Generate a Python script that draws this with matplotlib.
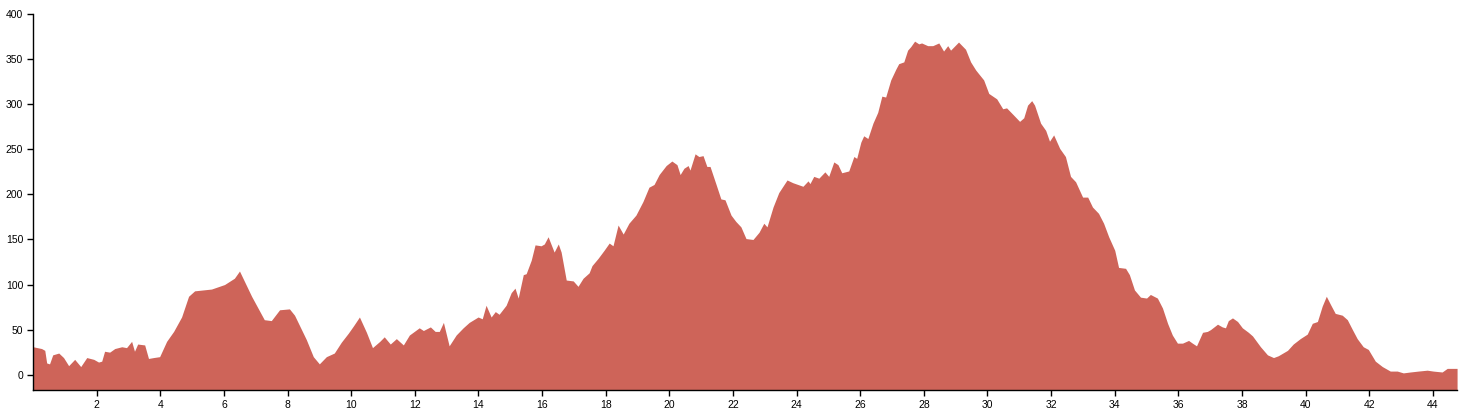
import matplotlib.pyplot as plt

plt.rcParams['font.family'] = ['Liberation Sans', 'DejaVu Sans']

# distance (km) and elevation (m)
dist = [0.0, 0.27, 0.37, 0.43, 0.52, 0.62, 0.81, 0.96, 1.12, 1.31, 1.50, 1.69, 1.91,
        2.06, 2.16, 2.25, 2.41, 2.57, 2.79, 2.94, 3.10, 3.19, 3.29, 3.51, 3.63, 3.79,
        3.98, 4.20, 4.42, 4.67, 4.89, 5.08, 5.61, 6.02, 6.33, 6.49, 6.87, 7.27, 7.49,
        7.75, 8.06, 8.22, 8.59, 8.81, 9.00, 9.22, 9.47, 9.69, 9.91, 10.07, 10.26, 10.48,
        10.67, 10.90, 11.04, 11.23, 11.42, 11.64, 11.83, 12.14, 12.27, 12.49, 12.64,
        12.77, 12.90, 13.08, 13.30, 13.52, 13.71, 13.99, 14.12, 14.24, 14.40, 14.53,
        14.65, 14.87, 15.03, 15.15, 15.25, 15.41, 15.50, 15.66, 15.78, 15.97, 16.07,
        16.19, 16.38, 16.51, 16.60, 16.76, 16.98, 17.13, 17.29, 17.48, 17.57, 17.76,
        17.95, 18.11, 18.23, 18.39, 18.55, 18.73, 18.95, 19.17, 19.36, 19.52, 19.68,
        19.90, 20.08, 20.24, 20.34, 20.46, 20.59, 20.65, 20.81, 20.93, 21.06, 21.18,
        21.28, 21.47, 21.62, 21.75, 21.94, 22.09, 22.25, 22.41, 22.63, 22.82, 22.97,
        23.07, 23.26, 23.44, 23.70, 23.88, 24.20, 24.36, 24.42, 24.54, 24.70, 24.89,
        25.01, 25.17, 25.30, 25.42, 25.64, 25.80, 25.89, 26.02, 26.11, 26.24, 26.40,
        26.55, 26.68, 26.80, 26.96, 27.12, 27.21, 27.37, 27.49, 27.59, 27.71, 27.84,
        27.93, 28.12, 28.28, 28.47, 28.62, 28.75, 28.84, 29.09, 29.31, 29.47, 29.63,
        29.72, 29.88, 30.04, 30.29, 30.48, 30.60, 30.82, 31.01, 31.14, 31.26, 31.39,
        31.48, 31.67, 31.83, 31.95, 32.08, 32.27, 32.45, 32.61, 32.77, 32.99, 33.15,
        33.30, 33.49, 33.65, 33.81, 34.00, 34.12, 34.34, 34.46, 34.62, 34.81, 35.00,
        35.12, 35.34, 35.50, 35.66, 35.81, 35.97, 36.13, 36.32, 36.44, 36.57, 36.76,
        36.91, 37.01, 37.23, 37.38, 37.48, 37.57, 37.70, 37.86, 38.01, 38.20, 38.33,
        38.58, 38.80, 38.99, 39.14, 39.43, 39.61, 39.83, 40.05, 40.21, 40.37, 40.52,
        40.65, 40.78, 40.93, 41.15, 41.31, 41.47, 41.62, 41.81, 41.97, 42.19, 42.41,
        42.66, 42.88, 43.07, 43.29, 43.54, 43.82, 44.01, 44.29, 44.45, 44.76]

elev = [31, 29, 27, 13, 12, 22, 24, 19, 10, 17, 9, 19, 17,
        14, 15, 26, 25, 29, 31, 30, 37, 26, 34, 33, 18, 19,
        20, 37, 48, 64, 87, 93, 95, 100, 107, 115, 87, 61, 60,
        72, 73, 66, 39, 20, 12, 20, 24, 36, 46, 54, 64, 47,
        30, 37, 42, 34, 40, 33, 44, 52, 49, 53, 48,
        48, 58, 32, 44, 52, 58, 64, 62, 77, 64, 70,
        67, 77, 91, 96, 85, 111, 112, 127, 144, 143, 145,
        153, 136, 145, 136, 105, 104, 98, 107, 113, 121, 129,
        138, 146, 143, 166, 156, 168, 177, 192, 208, 211, 222,
        232, 237, 233, 222, 229, 232, 227, 245, 242, 243, 231,
        231, 211, 195, 194, 177, 170, 164, 151, 150, 158, 168,
        164, 186, 202, 216, 213, 209, 215, 212, 220, 218, 225,
        220, 236, 233, 224, 226, 242, 240, 258, 265, 262, 279,
        291, 309, 308, 327, 339, 345, 347, 360, 364, 370, 367,
        368, 365, 365, 368, 359, 365, 360, 369, 361, 347, 338,
        334, 327, 312, 306, 295, 296, 288, 281, 285, 299, 304,
        299, 279, 271, 259, 266, 251, 242, 220, 214, 197, 197,
        186, 179, 168, 153, 138, 119, 118, 111, 94, 86, 85,
        89, 85, 74, 57, 44, 35, 35, 38, 35, 32, 47,
        48, 50, 56, 53, 52, 60, 63, 59, 52, 47, 43,
        31, 22, 19, 21, 27, 34, 40, 45, 57, 59, 76,
        87, 78, 68, 66, 61, 50, 40, 31, 28, 15, 9,
        4, 4, 2, 3, 4, 5, 4, 3, 7, 7]

y_ticks = [0, 50, 100, 150, 200, 250, 300, 350, 400]
x_ticks = list(range(2, 45, 2))

fig = plt.figure(figsize=(14.6, 4.15), dpi=100)
ax = fig.add_axes([0.0226, 0.0602, 0.9754, 0.9058])

ax.fill_between(dist, elev, -17, color='#CE6459', linewidth=0)

ax.set_xlim(0, dist[-1])
ax.set_ylim(-17, 400)
ax.set_xticks(x_ticks)
ax.set_yticks(y_ticks)
ax.tick_params(labelsize=7.5, length=4, width=1, colors='black', pad=3)

for side in ['top', 'right']:
    ax.spines[side].set_visible(False)
for side in ['left', 'bottom']:
    ax.spines[side].set_linewidth(1)
    ax.spines[side].set_color('black')

fig.savefig('out.png', dpi=100)
